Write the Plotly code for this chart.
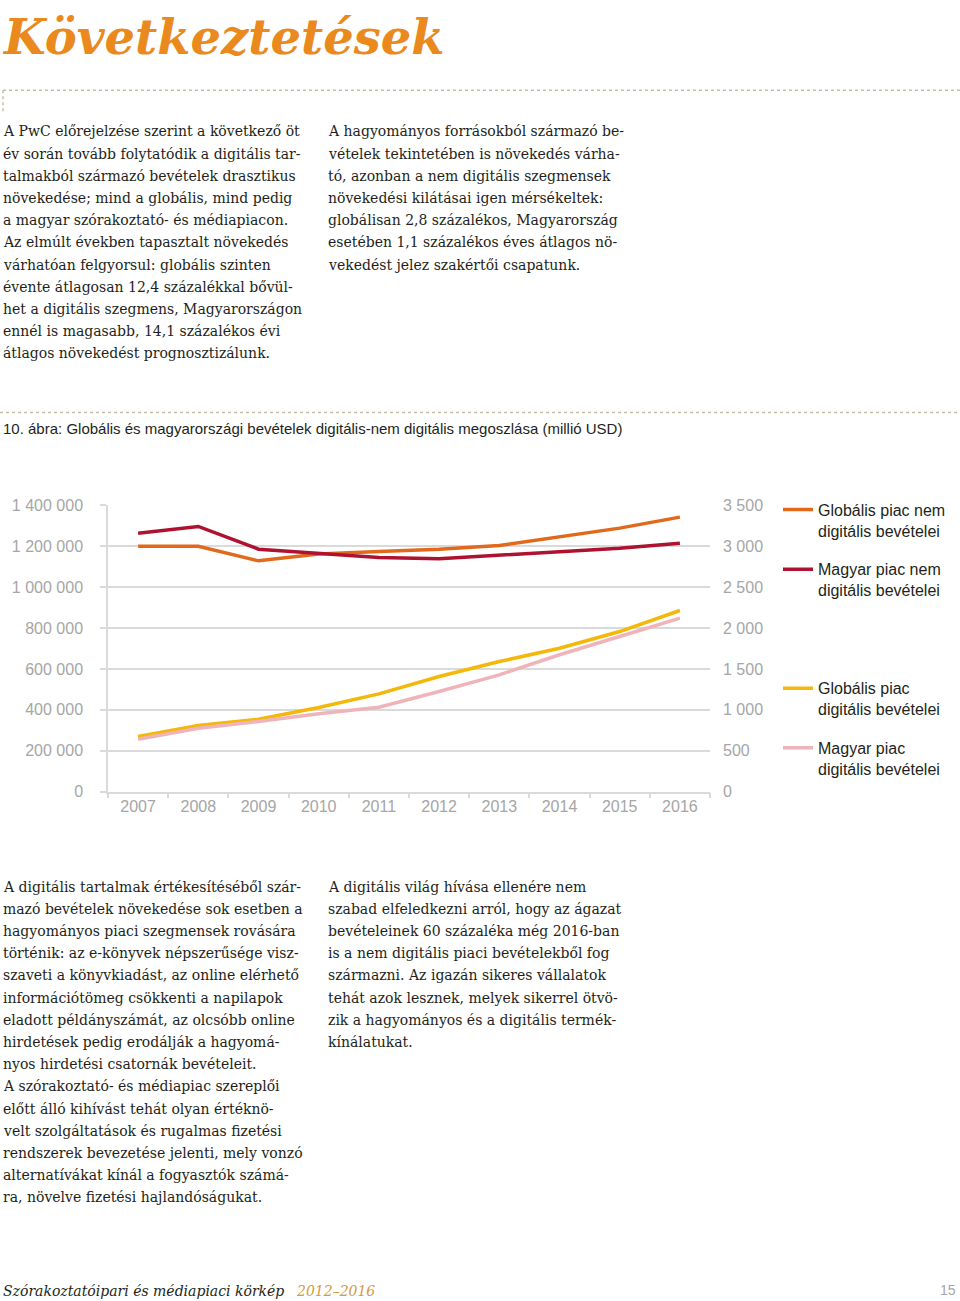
import plotly.graph_objects as go

W, H = 960, 1318

# ---------------- data ----------------
years = ["2007", "2008", "2009", "2010", "2011", "2012", "2013", "2014", "2015", "2016"]
glob_nondigital = [1200000, 1200000, 1129000, 1162000, 1175000, 1186000, 1204000, 1248000, 1289000, 1343000]
glob_digital = [269000, 323000, 354000, 411000, 478000, 563000, 636000, 701000, 783000, 886000]
hu_nondigital = [3161, 3243, 2965, 2916, 2864, 2848, 2892, 2929, 2977, 3039]
hu_digital = [640, 775, 857, 951, 1032, 1224, 1428, 1673, 1897, 2121]

left_tickvals = [0, 200000, 400000, 600000, 800000, 1000000, 1200000, 1400000]
left_ticktext = ["0", "200 000", "400 000", "600 000", "800 000", "1 000 000", "1 200 000", "1 400 000"]
right_tickvals = [0, 500, 1000, 1500, 2000, 2500, 3000, 3500]
right_ticktext = ["0", "500", "1 000", "1 500", "2 000", "2 500", "3 000", "3 500"]

names = ["Globális piac nem<br>digitális bevételei",
         "Magyar piac nem<br>digitális bevételei",
         "Globális piac<br>digitális bevételei",
         "Magyar piac<br>digitális bevételei"]

title_text = "Következtetések"
caption = "10. ábra: Globális és magyarországi bevételek digitális-nem digitális megoszlása (millió USD)"
footer_main = "Szórakoztatóipari és médiapiaci körkép"
footer_years = "2012–2016"
page_no = "15"

left_top = [
    "A PwC előrejelzése szerint a következő öt",
    "év során tovább folytatódik a digitális tar-",
    "talmakból származó bevételek drasztikus",
    "növekedése; mind a globális, mind pedig",
    "a magyar szórakoztató- és médiapiacon.",
    "Az elmúlt években tapasztalt növekedés",
    "várhatóan felgyorsul: globális szinten",
    "évente átlagosan 12,4 százalékkal bővül-",
    "het a digitális szegmens, Magyarországon",
    "ennél is magasabb, 14,1 százalékos évi",
    "átlagos növekedést prognosztizálunk.",
]
right_top = [
    "A hagyományos forrásokból származó be-",
    "vételek tekintetében is növekedés várha-",
    "tó, azonban a nem digitális szegmensek",
    "növekedési kilátásai igen mérsékeltek:",
    "globálisan 2,8 százalékos, Magyarország",
    "esetében 1,1 százalékos éves átlagos nö-",
    "vekedést jelez szakértői csapatunk.",
]
left_bottom = [
    "A digitális tartalmak értékesítéséből szár-",
    "mazó bevételek növekedése sok esetben a",
    "hagyományos piaci szegmensek rovására",
    "történik: az e-könyvek népszerűsége visz-",
    "szaveti a könyvkiadást, az online elérhető",
    "információtömeg csökkenti a napilapok",
    "eladott példányszámát, az olcsóbb online",
    "hirdetések pedig erodálják a hagyomá-",
    "nyos hirdetési csatornák bevételeit.",
    "A szórakoztató- és médiapiac szereplői",
    "előtt álló kihívást tehát olyan értéknö-",
    "velt szolgáltatások és rugalmas fizetési",
    "rendszerek bevezetése jelenti, mely vonzó",
    "alternatívákat kínál a fogyasztók számá-",
    "ra, növelve fizetési hajlandóságukat.",
]
right_bottom = [
    "A digitális világ hívása ellenére nem",
    "szabad elfeledkezni arról, hogy az ágazat",
    "bevételeinek 60 százaléka még 2016-ban",
    "is a nem digitális piaci bevételekből fog",
    "származni. Az igazán sikeres vállalatok",
    "tehát azok lesznek, melyek sikerrel ötvö-",
    "zik a hagyományos és a digitális termék-",
    "kínálatukat.",
]

# ---------------- styles ----------------
C_ORANGE = "#E2691B"
C_RED = "#AE1230"
C_YELLOW = "#F3B80A"
C_PINK = "#EFB4B9"
GRID = "#DADADA"
TICKC = "#A6A6A6"
TXT = "#231F20"
SERIF = "DejaVu Serif, Liberation Serif, serif"
SANS = "Liberation Sans, Arial, Helvetica, sans-serif"

K, OFF = 0.9868, 6.7


def px_x(x):
    return x / W


def raw_y(y):
    return 1 - y / H


def px_y(y_ref):
    return 1 - ((y_ref - OFF) / K) / H


fig = go.Figure()
LW = 3.5
fig.add_trace(go.Scatter(x=years, y=glob_nondigital, name=names[0], mode="lines",
                         line=dict(color=C_ORANGE, width=LW), yaxis="y", legend="legend",
                         legendgroup="g1", legendrank=1))
fig.add_trace(go.Scatter(x=years, y=hu_nondigital, name=names[1], mode="lines",
                         line=dict(color=C_RED, width=LW), yaxis="y2", legend="legend",
                         legendgroup="g2", legendrank=2))
fig.add_trace(go.Scatter(x=years, y=hu_digital, name=names[3], mode="lines",
                         line=dict(color=C_PINK, width=LW), yaxis="y2", legend="legend2",
                         legendgroup="g4", legendrank=4))
fig.add_trace(go.Scatter(x=years, y=glob_digital, name=names[2], mode="lines",
                         line=dict(color=C_YELLOW, width=LW), yaxis="y", legend="legend2",
                         legendgroup="g3", legendrank=3))

x0, x1 = px_x(108), px_x(710)
yb, yt = px_y(790), px_y(504)

fig.update_layout(
    width=W, height=H,
    margin=dict(l=0, r=0, t=0, b=0),
    paper_bgcolor="white", plot_bgcolor="white",
    font=dict(family=SANS, color=TXT),
    xaxis=dict(type="category", domain=[x0, x1], anchor="y",
               showline=True, linecolor=GRID, linewidth=1.5,
               ticks="outside", tickson="boundaries", ticklen=5, tickcolor=GRID, tickwidth=1.5,
               showgrid=False, tickfont=dict(size=16, color=TICKC, family=SANS),
               range=[-0.5, 9.5], fixedrange=True),
    yaxis=dict(domain=[yb, yt], range=[0, 1400000], tickvals=left_tickvals, ticktext=left_ticktext,
               showgrid=True, gridcolor=GRID, gridwidth=1.5, zeroline=False,
               showline=True, linecolor=GRID, linewidth=1.5,
               ticks="outside", ticklen=6, tickcolor=GRID, tickwidth=1.5,
               tickfont=dict(size=16, color=TICKC, family=SANS), ticklabelstandoff=14,
               fixedrange=True),
    yaxis2=dict(overlaying="y", side="right", anchor="x", range=[0, 3500],
                tickvals=right_tickvals, ticktext=right_ticktext, showgrid=False,
                zeroline=False, showline=False, ticks="",
                tickfont=dict(size=16, color=TICKC, family=SANS), ticklabelstandoff=12,
                fixedrange=True),
    legend=dict(x=px_x(778), y=raw_y(491), xanchor="left", yanchor="top",
                bgcolor="rgba(0,0,0,0)", borderwidth=0, valign="top",
                font=dict(size=16, color=TXT, family=SANS),
                traceorder="grouped", tracegroupgap=15),
    legend2=dict(x=px_x(778), y=raw_y(672), xanchor="left", yanchor="top",
                 bgcolor="rgba(0,0,0,0)", borderwidth=0, valign="top",
                 font=dict(size=16, color=TXT, family=SANS),
                 traceorder="grouped", tracegroupgap=15),
    showlegend=True,
)

ann = []
ann.append(dict(text="<b><i>" + title_text + "</i></b>", x=px_x(1), y=1,
                xref="paper", yref="paper", xanchor="left", yanchor="top", showarrow=False,
                borderpad=0, font=dict(family=SERIF, size=48, color="#EA8A1E")))


def add_block(lines, x, y_first, step=22.2):
    for i, t in enumerate(lines):
        ann.append(dict(text=t, x=px_x(x), y=px_y(y_first + i * step), xref="paper", yref="paper",
                        xanchor="left", yanchor="middle", showarrow=False,
                        font=dict(family=SERIF, size=14, color=TXT)))


add_block(left_top, 1, 130)
add_block(right_top, 326, 130)
add_block(left_bottom, 1, 885)
add_block(right_bottom, 326, 885)

ann.append(dict(text=caption, x=px_x(1), y=px_y(427), xref="paper", yref="paper",
                xanchor="left", yanchor="middle", showarrow=False,
                font=dict(family="Liberation Sans Narrow, Arial Narrow, " + SANS, size=15, color=TXT)))
ann.append(dict(text="<i>" + footer_main + "</i>", x=px_x(1), y=px_y(1289), xref="paper", yref="paper",
                xanchor="left", yanchor="middle", showarrow=False,
                font=dict(family=SERIF, size=14, color=TXT)))
ann.append(dict(text="<i>" + footer_years + "</i>", x=px_x(294), y=px_y(1289), xref="paper", yref="paper",
                xanchor="left", yanchor="middle", showarrow=False,
                font=dict(family=SERIF, size=14, color="#D39A3E")))
ann.append(dict(text=page_no, x=px_x(958), y=px_y(1288), xref="paper", yref="paper",
                xanchor="right", yanchor="middle", showarrow=False,
                font=dict(family=SANS, size=14, color="#A6A6A6")))
fig.update_layout(annotations=ann)

DOT = "#C9BDA8"
shapes = [
    dict(type="line", xref="paper", yref="paper", x0=px_x(3), x1=1, y0=px_y(89), y1=px_y(89),
         line=dict(color=DOT, width=1.5, dash="dot")),
    dict(type="line", xref="paper", yref="paper", x0=px_x(3), x1=px_x(3), y0=px_y(89), y1=px_y(110),
         line=dict(color=DOT, width=1.5, dash="dot")),
    dict(type="line", xref="paper", yref="paper", x0=0, x1=1, y0=px_y(411), y1=px_y(411),
         line=dict(color=DOT, width=1.5, dash="dot")),
]
fig.update_layout(shapes=shapes)

js = ("var s=document.createElement('style');"
      "s.innerHTML='html,body{margin:0;padding:0;overflow:hidden;}';"
      "document.head.appendChild(s);")
fig.write_html("out.html", config={"displayModeBar": False}, post_script=js)
